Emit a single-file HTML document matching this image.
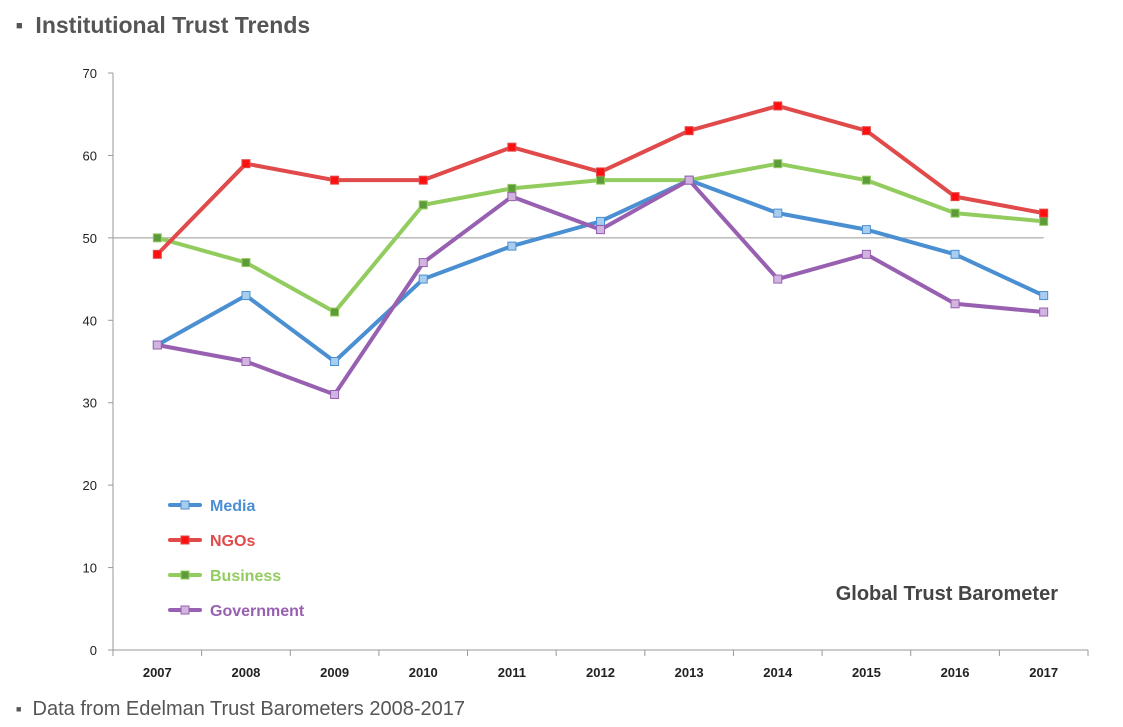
<!DOCTYPE html>
<html><head><meta charset="utf-8"><style>
html,body{margin:0;padding:0;background:#fff;width:1123px;height:727px;overflow:hidden;font-family:"Liberation Sans",sans-serif}
.title{position:absolute;left:16px;top:12px;font-size:23px;font-weight:bold;color:#555}
.foot{position:absolute;left:16px;top:698px;font-size:20px;color:#555}
</style></head><body>
<div class="title"><span style="font-size:11px;vertical-align:4px">■</span>&nbsp;&nbsp;Institutional Trust Trends</div>
<div class="foot"><span style="font-size:9px;vertical-align:3px">■</span>&nbsp;&nbsp;Data from Edelman Trust Barometers 2008-2017</div>
<svg id="chart" width="1123" height="727" style="position:absolute;left:0;top:0"></svg>
<script>
const years=["2007","2008","2009","2010","2011","2012","2013","2014","2015","2016","2017"];
const media=[37,43,35,45,49,52,57,53,51,48,43];
const ngos=[48,59,57,57,61,58,63,66,63,55,53];
const business=[50,47,41,54,56,57,57,59,57,53,52];
const government=[37,35,31,47,55,51,57,45,48,42,41];
const yTicks=[0,10,20,30,40,50,60,70];
const seriesNames=["Media","NGOs","Business","Government"];

const svg=document.getElementById('chart');
const NS="http://www.w3.org/2000/svg";
const x0=113,x1=1088,yTop=73,yBot=650,yMax=70;
const bw=(x1-x0)/years.length;
const xs=i=>x0+bw*(i+0.5);
const ys=v=>yBot-(v/yMax)*(yBot-yTop);
function mk(t,a){const e=document.createElementNS(NS,t);for(const k in a)e.setAttribute(k,a[k]);svg.appendChild(e);return e;}

let e=mk('line',{x1:x0,y1:yTop,x2:x0,y2:yBot,stroke:'#999','stroke-width':1});


e=mk('line',{x1:x0,y1:yBot,x2:x1,y2:yBot,stroke:'#999','stroke-width':1});


e=mk('line',{x1:x0,y1:ys(50),x2:xs(years.length-1),y2:ys(50),stroke:'#999','stroke-width':1});


yTicks.forEach(v=>{
  let t=mk('line',{x1:x0-5,y1:ys(v),x2:x0,y2:ys(v),stroke:'#999'});
  
  
  let l=mk('text',{x:97,y:ys(v)+5,'text-anchor':'end','font-size':13,fill:'#222'});
  l.textContent=v;
  
  
});
for(let i=0;i<=years.length;i++){
  let t=mk('line',{x1:x0+bw*i,y1:yBot,x2:x0+bw*i,y2:yBot+6,stroke:'#999'});
  
  
}
years.forEach((y,i)=>{
  let l=mk('text',{x:xs(i),y:677,'text-anchor':'middle','font-size':13,'font-weight':'bold',fill:'#222'});
  l.textContent=y;
  
  
});
const cfg=[
 {d:media,c:'#4a8fd2',f:'#a9cdee',n:'media'},
 {d:ngos,c:'#e04a4a',f:'#ff1010',n:'ngos'},
 {d:business,c:'#93cc5e',f:'#5c9a3a',n:'business'},
 {d:government,c:'#9860b0',f:'#d2b4e0',n:'government'}];
const order=[2,0,3,1];
order.forEach(k=>{
  const s=cfg[k];
  let p=mk('polyline',{points:s.d.map((v,i)=>xs(i)+','+ys(v)).join(' '),fill:'none',stroke:s.c,'stroke-width':4,'stroke-linejoin':'round'});
  
  
  s.d.forEach((v,i)=>{
    let r=mk('rect',{x:xs(i)-4,y:ys(v)-4,width:8,height:8,fill:s.f,stroke:s.c,'stroke-width':1});
    
    
  });
});
cfg.forEach((s,k)=>{
  const ly=505+k*35;
  let l=mk('line',{x1:170,y1:ly,x2:200,y2:ly,stroke:s.c,'stroke-width':4,'stroke-linecap':'round'});
  
  
  let r=mk('rect',{x:181,y:ly-4,width:8,height:8,fill:s.f,stroke:s.c});
  
  
  let t=mk('text',{x:210,y:ly+6,'font-size':16,'font-weight':'bold',fill:s.c});
  t.textContent=seriesNames[k];
  
  
});
let g=mk('text',{x:1058,y:600,'text-anchor':'end','font-size':20,'font-weight':'bold',fill:'#444'});
g.textContent='Global Trust Barometer';


</script>
</body></html>
